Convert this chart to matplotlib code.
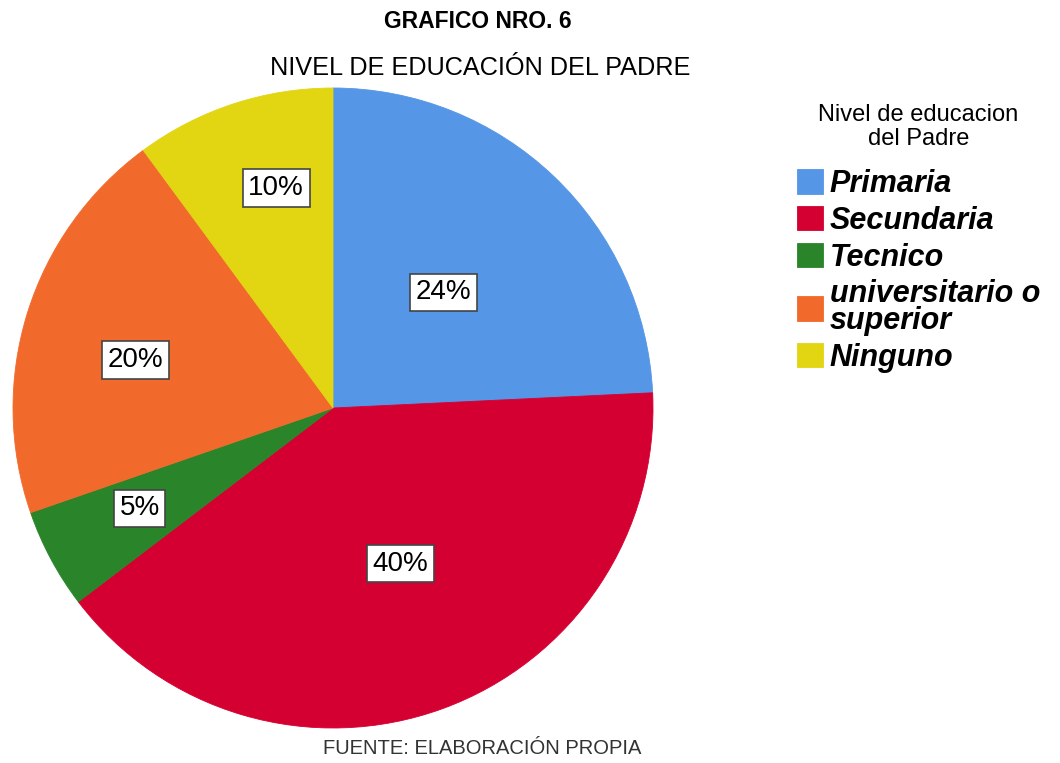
import numpy as np
import matplotlib
matplotlib.use("Agg")
import matplotlib.pyplot as plt

plt.rcParams['font.family'] = ['Liberation Sans', 'DejaVu Sans']

# datos (frecuencias, n = 99)
categorias = ["Primaria", "Secundaria", "Tecnico", "universitario o\nsuperior", "Ninguno"]
frecuencias = [24, 40, 5, 20, 10]
colores = ["#5596E6", "#D50032", "#2A852A", "#F26A2B", "#E2D512"]

# ubicacion de las etiquetas: distancia al centro (fraccion del radio) y giro en grados
dist_etiquetas = [0.50, 0.53, 0.68, 0.635, 0.71]
giro_etiquetas = [0, 3.3, -0.8, 3.6, -3.7]

fig = plt.figure(figsize=(10.6, 7.63), dpi=100)
ax = fig.add_axes([13 / 1060, 35 / 763, 640 / 1060, 640 / 763])

wedges, _ = ax.pie(frecuencias, colors=colores, startangle=90, counterclock=False,
                   radius=1, wedgeprops=dict(linewidth=0))
for w in wedges:
    w.set_edgecolor(w.get_facecolor())
    w.set_linewidth(0.6)
ax.set_xlim(-1, 1)
ax.set_ylim(-1, 1)
ax.set_aspect("equal")
ax.axis("off")

total = sum(frecuencias)
for w, f, r, g in zip(wedges, frecuencias, dist_etiquetas, giro_etiquetas):
    ang = np.deg2rad((w.theta1 + w.theta2) / 2 + g)
    ax.text(r * np.cos(ang), r * np.sin(ang), f"{round(f / total * 100)}%",
            ha="center", va="center", fontsize=20, color="black",
            bbox=dict(boxstyle="square,pad=0.2", facecolor="white",
                      edgecolor="#444444", linewidth=1.2))

# titulos
fig.text(478 / 1060, 1 - 22 / 763, "GRAFICO NRO. 6", ha="center", va="center",
         fontsize=16.5, fontweight="bold")
fig.text(480 / 1060, 1 - 68 / 763, "NIVEL DE EDUCACIÓN DEL PADRE", ha="center",
         va="center", fontsize=18.2)
fig.text(482 / 1060, 1 - 748 / 763, "FUENTE: ELABORACIÓN PROPIA", ha="center",
         va="center", fontsize=14.5, color="#333333")

# leyenda
leg = fig.legend(wedges, categorias, loc="upper left",
                 bbox_to_anchor=(797 / 1060, 1 - 104 / 763),
                 title="Nivel de educacion\ndel Padre", frameon=False,
                 prop=dict(size=22, weight="bold", style="italic"),
                 title_fontsize=17, handlelength=0.85, handleheight=0.85,
                 handletextpad=0.22, labelspacing=0.22, borderpad=0,
                 borderaxespad=0, alignment="center")
for t in leg.get_texts():
    t.set_linespacing(0.85)
leg.get_title().set_linespacing(1.1)
leg.get_title().set_multialignment("center")
leg._legend_box.sep = 14

fig.savefig("out.png", dpi=100)
